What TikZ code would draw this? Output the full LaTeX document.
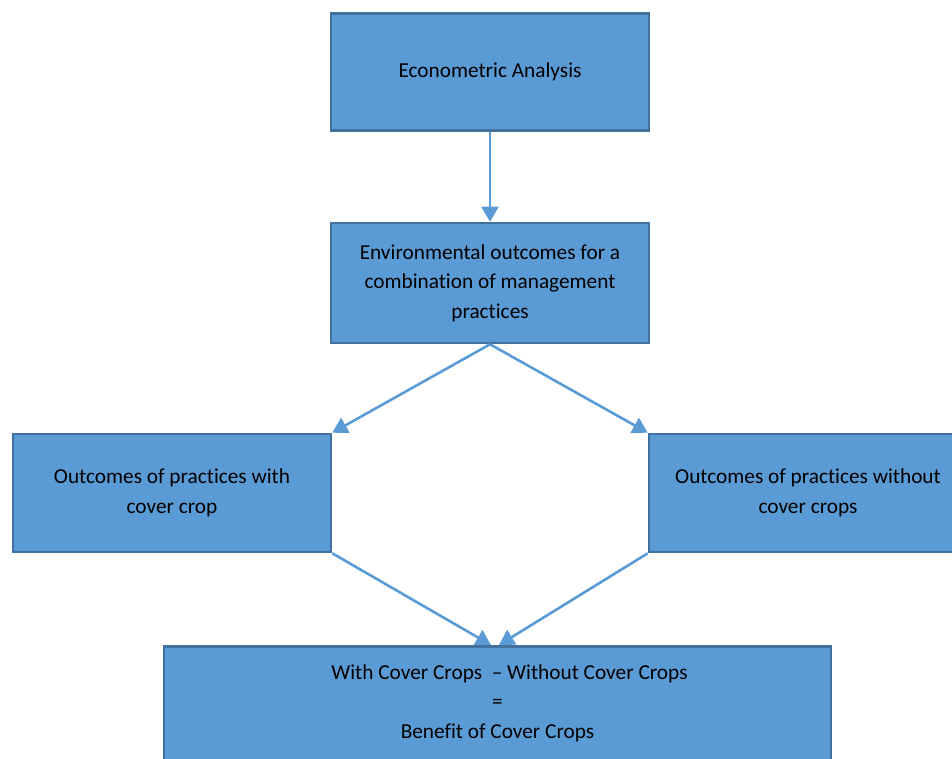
\documentclass[tikz,border=0pt]{standalone}
\usepackage{fontspec}
\setmainfont[Ligatures=NoCommon]{Carlito}
\usetikzlibrary{arrows.meta}
\definecolor{boxfill}{HTML}{5B9BD5}
\definecolor{boxline}{HTML}{41719C}
\begin{document}
\begin{tikzpicture}[x=1pt,y=-1pt,
  box/.style={rectangle, draw=boxline, fill=boxfill, line width=2.6pt,
    inner sep=0pt, align=center, text=black,
    font=\fontsize{21.3}{29.5}\selectfont},
  link/.style={draw=boxfill, line width=2.6pt,
    -{Triangle[length=15pt,width=17pt]}}]
  \useasboundingbox (0,0) rectangle (952,759);
  \clip (0,0) rectangle (952,759);
  % boxes
  \node[box, minimum width=318pt, minimum height=117pt] (ana) at (490,72)
    {Econometric Analysis};
  \node[box, minimum width=318pt, minimum height=120pt] (env) at (490,283)
    {Environmental outcomes for a\\combination of management\\practices};
  \node[box, minimum width=318pt, minimum height=118pt] (with) at (172,493)
    {Outcomes of practices with\\cover crop};
  \node[box, minimum width=318pt, minimum height=118pt] (without) at (808,493)
    {Outcomes of practices without\\cover crops};
  \node[box, minimum width=667pt, minimum height=114pt, anchor=north] (diff) at (497.5,645)
    {\hspace*{24pt}With Cover Crops\ \ -- Without Cover Crops\\=\\Benefit of Cover Crops};
  % arrow ends on the bottom box
  \coordinate (inL) at (491,645);
  \coordinate (inR) at (499,645);
  % connectors
  \draw[link] (ana.south) -- (env.north);
  \draw[link] (env.south) -- (with.north east);
  \draw[link] (env.south) -- (without.north west);
  \draw[link] (with.south east) -- (inL);
  \draw[link] (without.south west) -- (inR);
\end{tikzpicture}
\end{document}
